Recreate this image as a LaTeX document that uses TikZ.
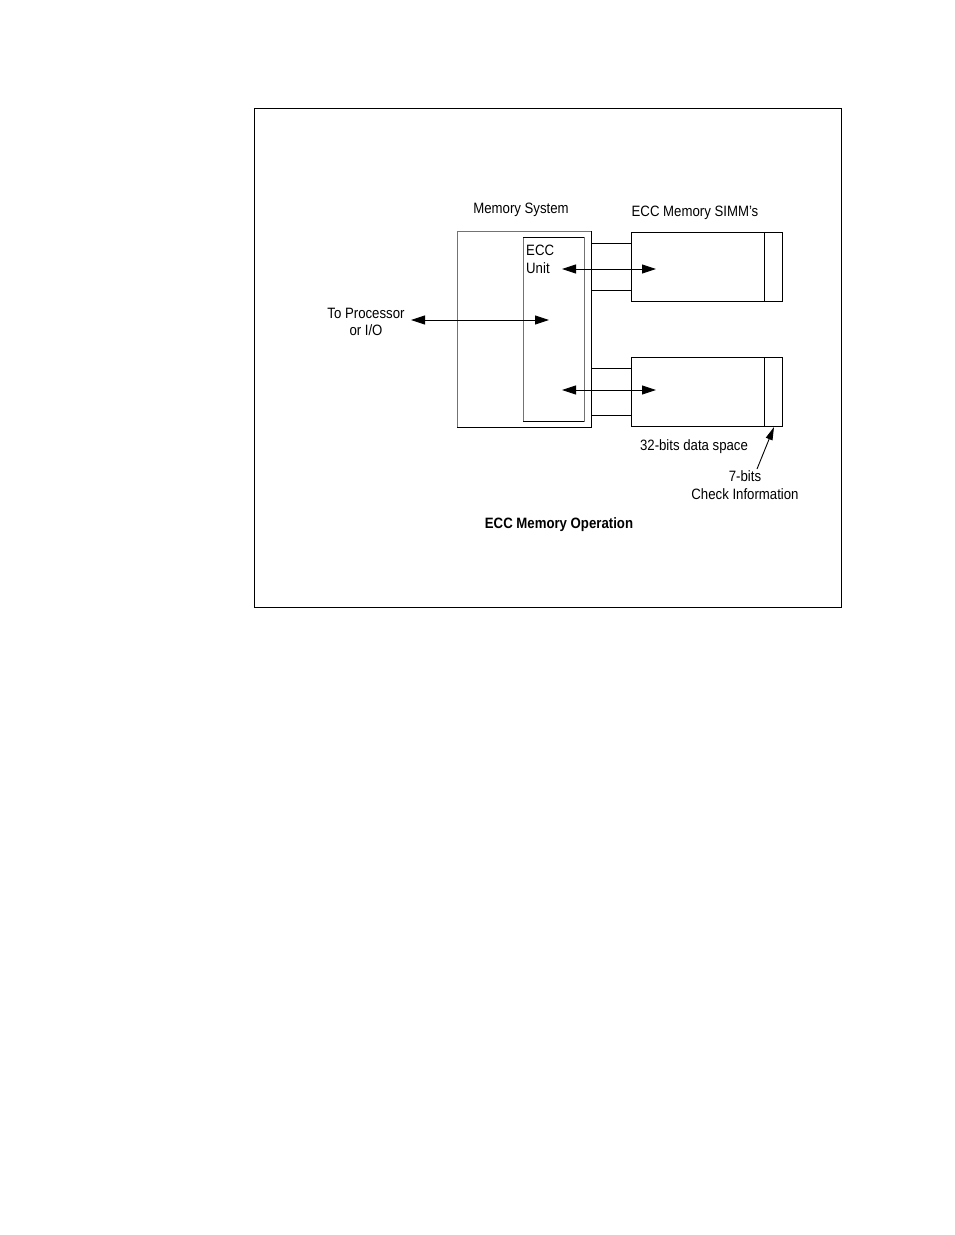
\documentclass[tikz,border=0pt]{standalone}
\usepackage{fontspec}
\setmainfont{Liberation Sans}[FakeStretch=0.88]
\usetikzlibrary{arrows.meta}
\begin{document}
\begin{tikzpicture}[x=1pt,y=-1pt,
  lbl/.style={font=\fontsize{15}{17.5}\selectfont, inner sep=0pt, align=center},
  thin gray/.style={draw=black!55, line width=0.7pt},
  blk/.style={draw=black, line width=1pt},
  dbl/.style={line width=0.9pt, {Triangle[length=14pt,width=9pt]}-{Triangle[length=14pt,width=9pt]}},
  sgl/.style={line width=0.8pt, -{Triangle[length=12pt,width=8pt]}}]
\useasboundingbox (0,0) rectangle (954,1235);
\draw[line width=0.9pt] (254,108) rectangle (841,607);
% memory system
\draw[thin gray] (457,231) rectangle (591,427);
\draw[blk] (457,427) -- (591,427) -- (591,231);
\node[draw=black!55, line width=0.7pt, minimum width=61pt, minimum height=184pt, inner sep=0pt] (ecc) at (553.5,329) {};
\draw[blk] (523,237) -- (584,237);
\draw[blk] (523,421) -- (584,421);
% SIMMs
\node[draw=black, line width=1pt, minimum width=151pt, minimum height=69pt, inner sep=0pt] (simm1) at (706.5,266.5) {};
\node[draw=black, line width=1pt, minimum width=151pt, minimum height=69pt, inner sep=0pt] (simm2) at (706.5,391.5) {};
\draw[blk] (764,232) -- (764,301);
\draw[blk] (764,357) -- (764,426);
% bus lines
\draw[blk] (591,243) -- (631,243);
\draw[blk] (591,290) -- (631,290);
\draw[blk] (591,368) -- (631,368);
\draw[blk] (591,415) -- (631,415);
% arrows
\coordinate (a1) at (562,269); \coordinate (b1) at (656,269);
\coordinate (a2) at (562,390); \coordinate (b2) at (656,390);
\coordinate (p) at (411,320); \coordinate (q) at (549,320);
\draw[dbl] (a1) -- (b1);
\draw[dbl] (a2) -- (b2);
\draw[dbl] (p) -- (q);
% labels
\node[lbl] (ms) at (521,210) {Memory System};
\node[lbl] (es) at (695,213) {ECC Memory SIMM's};
\node[lbl, anchor=north west, align=left] (eu) at (526,245) {ECC\\Unit};
\node[lbl] (tp) at (366,322) {To Processor\\or I/O};
\node[lbl] (ds) at (694,447) {32-bits data space};
\node[lbl] (ci) at (745,485) {7-bits\\Check Information};
\node[lbl, font=\bfseries\fontsize{15}{17.5}\selectfont] (op) at (559,525) {ECC Memory Operation};
\coordinate (ct) at (774,427);
\draw[line width=0.9pt, -{Triangle[length=13pt,width=7pt]}] (757,469) -- (ct);
\end{tikzpicture}
\end{document}
